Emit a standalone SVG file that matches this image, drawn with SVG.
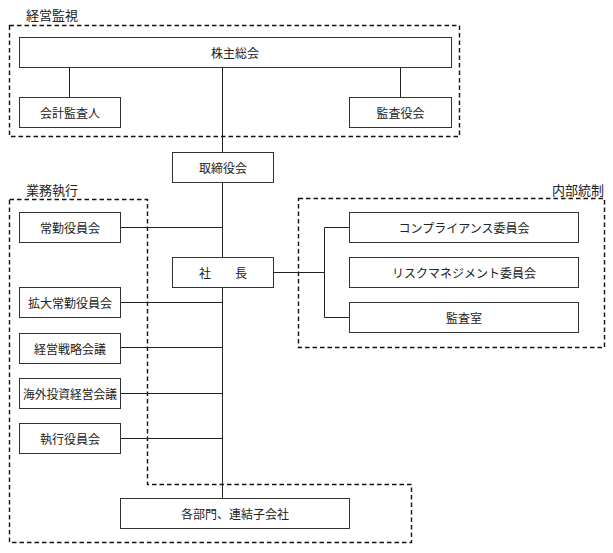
<svg xmlns="http://www.w3.org/2000/svg" width="613" height="553" viewBox="0 0 613 553">
<style>
.box{fill:#fff;stroke:#333;stroke-width:1}
.grp{fill:none;stroke:#111;stroke-width:1.4;stroke-dasharray:4.5 3}
.ln{fill:none;stroke:#222;stroke-width:1}
text{font-family:"Noto Sans CJK JP","Noto Sans CJK SC",sans-serif;font-size:12px;fill:#222;text-anchor:middle;dominant-baseline:central}
.lbl{font-size:13px}
</style>
<rect width="613" height="553" fill="#fff"/>
<g id="groups">
<rect class="grp" x="9.5" y="25.5" width="450" height="111"/>
<path class="grp" d="M9.5,199.5 H147.5 V484.5 H411.5 V542.5 H9.5 Z"/>
<rect class="grp" x="298.5" y="198.5" width="306" height="149"/>
<text class="lbl" x="52" y="14">経営監視</text>
<text class="lbl" x="52" y="189">業務執行</text>
<text class="lbl" x="604" y="189" style="text-anchor:end">内部統制</text>
</g>
<g id="connectors">
<path class="ln" d="M222.5,67 V498"/>
<path class="ln" d="M69.5,67 V97 M400.5,67 V97"/>
<path class="ln" d="M120,227.5 H222.5 M120,302.5 H222.5 M120,347.5 H222.5 M120,393.5 H222.5 M120,438.5 H222.5"/>
<path class="ln" d="M273,272.5 H324.5 M349,227.5 H324.5 V317.5 H349"/>
</g>
<g id="kabunushi"><rect class="box" x="19.5" y="37.5" width="432" height="30"/><text x="235" y="52.5">株主総会</text></g>
<g id="kaikei"><rect class="box" x="19.5" y="97.5" width="101" height="30"/><text x="70" y="112.5">会計監査人</text></g>
<g id="kansayaku"><rect class="box" x="349.5" y="97.5" width="102" height="30"/><text x="400.5" y="112.5">監査役会</text></g>
<g id="torishimari"><rect class="box" x="172.5" y="152.5" width="101" height="30"/><text x="223" y="167.5">取締役会</text></g>
<g id="shacho"><rect class="box" x="172.5" y="257.5" width="101" height="30"/><text x="223" y="272.5" xml:space="preserve">社　　長</text></g>
<g id="jokin"><rect class="box" x="19.5" y="212.5" width="101" height="30"/><text x="70" y="227.5">常勤役員会</text></g>
<g id="kakudai"><rect class="box" x="19.5" y="287.5" width="101" height="30"/><text x="70" y="302.5">拡大常勤役員会</text></g>
<g id="senryaku"><rect class="box" x="19.5" y="333.5" width="101" height="30"/><text x="70" y="348.5">経営戦略会議</text></g>
<g id="kaigai"><rect class="box" x="19.5" y="378.5" width="101" height="30"/><text x="70" y="393.5" textLength="94" lengthAdjust="spacingAndGlyphs">海外投資経営会議</text></g>
<g id="shikko"><rect class="box" x="19.5" y="423.5" width="101" height="30"/><text x="70" y="438.5">執行役員会</text></g>
<g id="kakubumon"><rect class="box" x="120.5" y="498.5" width="229" height="30"/><text x="235" y="513.5">各部門、連結子会社</text></g>
<g id="compliance"><rect class="box" x="349.5" y="212.5" width="229" height="30"/><text x="464" y="227.5">コンプライアンス委員会</text></g>
<g id="risk"><rect class="box" x="349.5" y="257.5" width="229" height="30"/><text x="464" y="272.5">リスクマネジメント委員会</text></g>
<g id="kansashitsu"><rect class="box" x="349.5" y="302.5" width="229" height="30"/><text x="464" y="317.5">監査室</text></g>
</svg>
